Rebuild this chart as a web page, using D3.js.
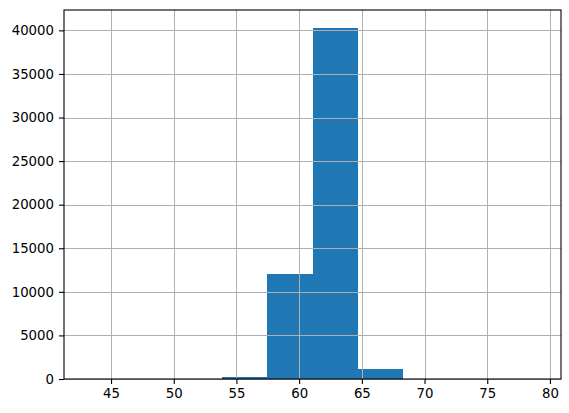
<!DOCTYPE html>
<html lang="en">
<head>
    <meta charset="UTF-8">
    <style>
        body { margin: 0; background: #fff; }
        .tick text { font: 13.3px "DejaVu Sans", sans-serif; fill: #000; }
        .grid line { stroke: #b0b0b0; stroke-width: 1; }
        .bar { shape-rendering: crispEdges; }
    </style>
    <script src="https://d3js.org/d3.v7.min.js"></script>
    <title>Histogram</title>
</head>
<body>
    <svg width="569" height="413"></svg>

    <script>
        // bin edges and counts
        var binEdges = [43.05, 46.65, 50.26, 53.86, 57.46, 61.07, 64.67, 68.27, 71.88, 75.48, 79.08];
        var counts = [2, 6, 25, 240, 12050, 40320, 1150, 30, 5, 1];
        var xTicks = [45, 50, 55, 60, 65, 70, 75, 80];
        var yTicks = [0, 5000, 10000, 15000, 20000, 25000, 30000, 35000, 40000];

        var svg = d3.select("svg"),
            margin = {top: 10, right: 8, bottom: 34, left: 64},
            width = 569 - margin.left - margin.right,
            height = 413 - margin.top - margin.bottom;

        var g = svg.append("g")
                   .attr("transform", "translate(" + margin.left + "," + margin.top + ")");

        // matplotlib style 5% margins on x, 5% headroom on y
        var span = binEdges[binEdges.length - 1] - binEdges[0];
        var x = d3.scaleLinear()
                  .domain([binEdges[0] - 0.05 * span, binEdges[binEdges.length - 1] + 0.05 * span])
                  .range([0, width]);
        var y = d3.scaleLinear()
                  .domain([0, d3.max(counts) * 1.05])
                  .range([height, 0]);

        var bins = counts.map(function(c, i) {
            return {x0: binEdges[i], x1: binEdges[i + 1], count: c};
        });

        g.selectAll(".bar")
         .data(bins)
         .enter().append("rect")
         .attr("class", "bar")
         .attr("x", function(d) { return x(d.x0); })
         .attr("width", function(d) { return x(d.x1) - x(d.x0); })
         .attr("y", function(d) { return y(d.count); })
         .attr("height", function(d) { return height - y(d.count); })
         .attr("fill", "#1f77b4");

        // grid sits on top of the bars, like pandas hist
        var grid = g.append("g").attr("class", "grid");
        grid.selectAll(".gx")
            .data(xTicks)
            .enter().append("line")
            .attr("x1", function(d) { return Math.round(x(d)) + 0.5; })
            .attr("x2", function(d) { return Math.round(x(d)) + 0.5; })
            .attr("y1", 0)
            .attr("y2", height);
        grid.selectAll(".gy")
            .data(yTicks)
            .enter().append("line")
            .attr("y1", function(d) { return Math.round(y(d)) + 0.5; })
            .attr("y2", function(d) { return Math.round(y(d)) + 0.5; })
            .attr("x1", 0)
            .attr("x2", width);

        var xAxis = g.append("g")
                     .attr("transform", "translate(0," + height + ")")
                     .call(d3.axisBottom(x).tickValues(xTicks).tickSize(5).tickPadding(5).tickFormat(d3.format("d")));
        var yAxis = g.append("g")
                     .call(d3.axisLeft(y).tickValues(yTicks).tickSize(5).tickPadding(5).tickFormat(d3.format("d")));
        xAxis.select(".domain").remove();
        yAxis.select(".domain").remove();
        g.selectAll(".tick line").attr("stroke", "#000").attr("stroke-width", 1.1);

        // frame
        g.append("rect")
         .attr("width", width)
         .attr("height", height)
         .attr("fill", "none")
         .attr("stroke", "#000")
         .attr("stroke-width", 1.1);
    </script>
</body>
</html>
